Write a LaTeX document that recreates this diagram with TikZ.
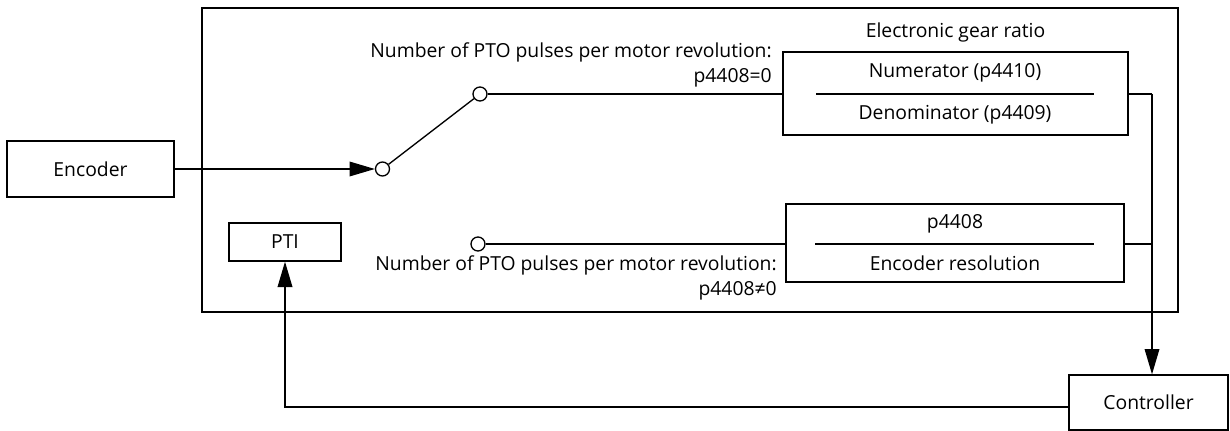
\documentclass[tikz,border=0pt]{standalone}
\usepackage{fontspec}
\setmainfont{Open Sans}
\usetikzlibrary{positioning,arrows.meta,calc}

\begin{document}
\begin{tikzpicture}[x=0.75pt, y=-0.75pt,
    blockBox/.style={rectangle, draw=black, line width=1pt, font=\fontsize{14.5}{17}\selectfont, inner sep=0pt},
    labelText/.style={font=\fontsize{14.5}{19}\selectfont, align=right, inner sep=0pt},
    plainText/.style={font=\fontsize{14.5}{17}\selectfont, inner sep=0pt},
    contact/.style={circle, draw=black, fill=white, line width=1pt, minimum size=10.5pt, inner sep=0pt},
    lineStyle/.style={line width=1pt, draw=black},
    arrowStyle/.style={lineStyle, -{Triangle[length=19pt, width=11pt]}}
]
    \useasboundingbox (0,0) rectangle (1230,431);

    % drive frame
    \draw[lineStyle] (202,8) rectangle (1178,312);

    \node[blockBox, minimum width=125.25pt, minimum height=42pt] (encoder) at (90.5,169) {Encoder};
    \node[blockBox, minimum width=84pt, minimum height=28.5pt] (pti) at (285,242) {PTI};
    \node[blockBox, minimum width=119.25pt, minimum height=41.25pt] (controller) at (1148.5,402.5) {Controller};

    \node[blockBox, minimum width=258.75pt, minimum height=62.25pt] (gear) at (955.5,93.5) {};
    \node[plainText] (gearTitle) at (955.5,32) {Electronic gear ratio};
    \node[plainText] (numerator) at (955,73) {Numerator (p4410)};
    \node[plainText] (denominator) at (955,115) {Denominator (p4409)};
    \draw[lineStyle] (816,94) -- (1094,94);

    \node[blockBox, minimum width=253.5pt, minimum height=58.5pt] (resolution) at (955,243) {};
    \node[plainText] (resParam) at (955,224) {p4408};
    \node[plainText] (resText) at (955,263) {Encoder resolution};
    \draw[lineStyle] (815,244) -- (1094,244);

    % switch
    \node[contact] (swIn) at (382.5,169) {};
    \node[contact] (swTop) at (480,94) {};
    \node[contact] (swLow) at (478,244) {};
    \draw[lineStyle] (swIn) -- (swTop);

    \node[labelText, anchor=east] (topLabel) at (772,65) {Number of PTO pulses per motor revolution:\\p4408=0};
    \node[labelText, anchor=east] (lowLabel) at (777,278) {Number of PTO pulses per motor revolution:\\p4408≠0};

    \coordinate (busTop) at (1152,94);
    \coordinate (busLow) at (1152,244);

    \draw[arrowStyle] (encoder) -- (swIn);
    \draw[lineStyle] (swTop) -- (gear.west |- swTop);
    \draw[lineStyle] (swLow) -- (resolution.west |- swLow);
    \draw[lineStyle] (gear.east |- busTop) -- (busTop);
    \draw[lineStyle] (resolution.east |- busLow) -- (busLow);
    \draw[arrowStyle] (busTop) -- (busTop |- controller.north);
    \draw[arrowStyle] (controller.west |- 0,407) -| (pti.south);
\end{tikzpicture}
\end{document}
